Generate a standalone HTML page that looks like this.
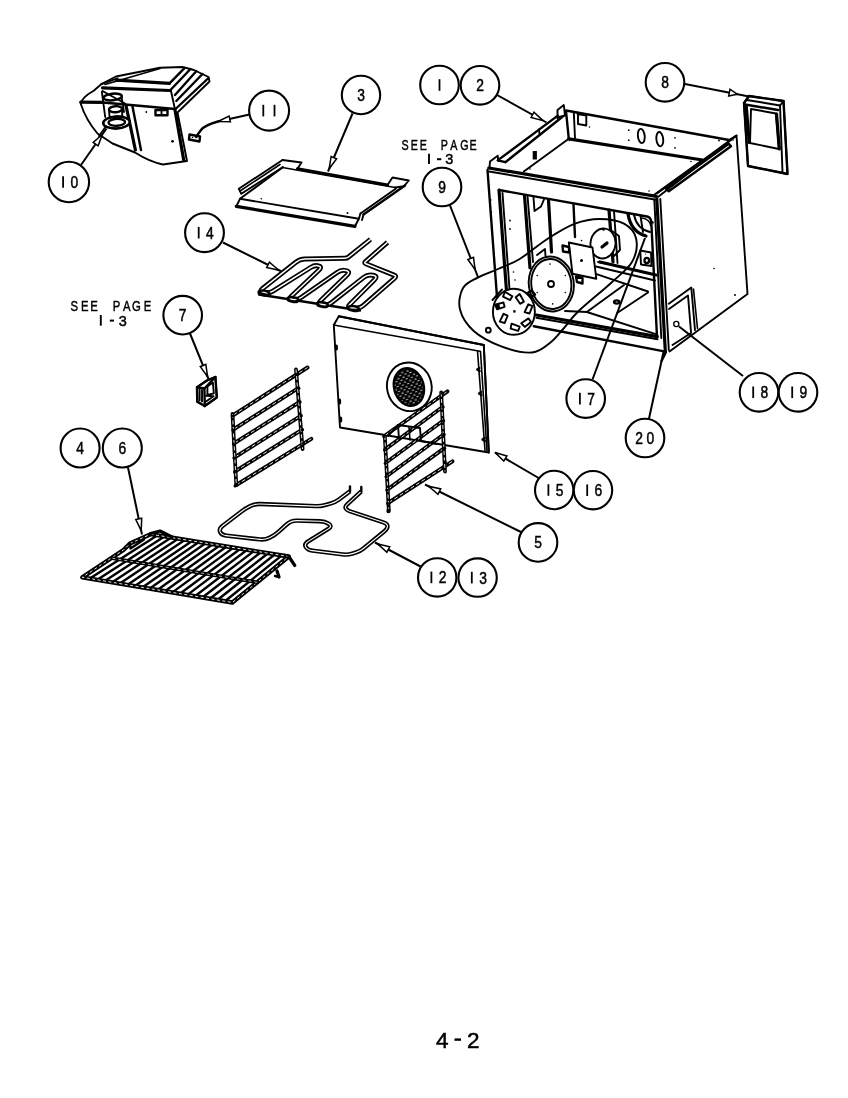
<!DOCTYPE html>
<html><head><meta charset="utf-8"><title>4-2</title>
<style>
html,body{margin:0;padding:0;background:#fff;}
body{width:848px;height:1098px;overflow:hidden;font-family:"Liberation Sans",sans-serif;}
svg{display:block;}
.l{fill:none;stroke:#000;stroke-width:1.9;stroke-linecap:round;stroke-linejoin:round;}
.n{fill:none;stroke:#000;stroke-width:1.6;stroke-linecap:round;stroke-linejoin:round;}
.t{fill:none;stroke:#000;stroke-width:3.2;stroke-linecap:round;stroke-linejoin:round;}
.m{fill:none;stroke:#000;stroke-width:2.4;stroke-linecap:round;stroke-linejoin:round;}
.ld{fill:none;stroke:#000;stroke-width:2.0;}
.ah{fill:#fff;stroke:#000;stroke-width:1.5;stroke-linejoin:miter;}
.w{fill:#fff;stroke:#000;stroke-width:1.9;stroke-linejoin:round;}
.c{fill:#fff;stroke:#000;stroke-width:2.1;}
.k{fill:#000;stroke:none;}
text{font-family:"Liberation Sans",sans-serif;fill:#000;}
.d{font-size:16.8px;text-anchor:middle;}
.s{font-size:14.5px;}
.b{font-size:22.5px;text-anchor:middle;stroke:#000;stroke-width:0.5px;}
</style></head><body>
<svg width="848" height="1098" viewBox="0 0 848 1098">
<rect width="848" height="1098" fill="#fff"/>
<!-- 10_housing.py -->
<path class="w" d="M101.5,84 L116,76.5 L160,67.8 L182.5,67 L194,70 L208.5,77 L209.5,81.5 L177.5,112.5 L187,161 L163,164.5 Q150,162 135,152.5 L112.5,143.5 L97.5,133.5 Q86,120 80.8,104 Q81,98 94,90.5 Z" />
<path class="t" d="M102.5,87.8 L170.0,90.5" />
<path class="m" d="M170.0,90.5 L190.0,69.5" />
<path class="t" d="M116.5,80.2 L169.5,83.4" />
<path class="m" d="M169.5,83.4 L184.0,68.6" />
<path class="l" d="M101.5,84.0 L117.5,78.3" />
<path class="n" d="M105.0,84.5 L160.0,68.5" />
<path class="m" d="M196.2,71.2 L175.0,95.0"/>
<path class="m" d="M202.5,74.0 L176.3,101.0"/>
<path class="m" d="M208.5,78.0 L175.0,109.5"/>
<path class="l" d="M171.0,91.0 L175.0,109.5"/>
<path class="m" d="M103.0,102.5 L175.0,109.0" />
<path class="t" d="M175.0,110.0 L183.8,160.5" />
<path class="l" d="M102.5,91.0 L125.0,103.5" />
<rect class="m" x="155.5" y="110" width="12" height="5.2"/>
<path class="l" d="M161.5,110.0 L161.5,115.0"/>
<circle cx="146.3" cy="112" r="0.9" fill="#000"/>
<circle cx="172.5" cy="141.3" r="1.4" fill="#000"/>
<path class="t" d="M80.7,102.2 L102.4,102.4" />
<path class="l" d="M101.9,92.0 L105.2,117.0" />
<ellipse class="m" cx="112.7" cy="97" rx="9.2" ry="3.3" transform="rotate(-6 112.7 97)"/>
<path class="l" d="M121.5,97.0 L124.0,112.0" />
<ellipse class="m" cx="115.6" cy="109.2" rx="6.6" ry="3" transform="rotate(-4 115.6 109.2)"/>
<path class="l" d="M109.0,109.5 L109.5,116.5" />
<path class="l" d="M122.0,109.0 L122.3,116.0" />
<path class="t" d="M126.0,105.5 L135.4,150.0" />
<path class="m" d="M132.5,106.4 L141.0,150.0" />
<ellipse class="w" cx="116.5" cy="122.5" rx="13.3" ry="6" transform="rotate(-3 116.5 122.5)"/>
<ellipse class="m" cx="116.5" cy="122.5" rx="13.3" ry="6" transform="rotate(-3 116.5 122.5)"/>
<ellipse class="m" cx="116.8" cy="122.3" rx="8.3" ry="3.5" transform="rotate(-3 116.8 122.3)"/>
<path class="l" d="M105.5,127.0 L99.0,136.0" />
<!-- 11_wire.py -->
<path class="m" d="M218,121.5 Q205,125 201,130 Q198,134 196,137" />
<path class="m" d="M189.5,134.5 L200.0,136.5 L199.5,141.5 L189.0,139.5 Z" />
<circle cx="192.5" cy="137.5" r="0.8" fill="#000"/>
<!-- 12_tray.py -->
<path class="l" d="M282.5,160.0 L301.5,162.5 L297.5,168.8" />
<path class="t" d="M297.5,168.8 L387.5,185.0" />
<path class="l" d="M387.5,185.0 L392.5,177.5 L408.8,180.5 L403.8,186.3 L395.0,187.5" />
<path class="n" d="M282.5,167.5 L395.0,187.5" />
<path class="l" d="M282.5,160.0 L238.8,188.8 L241.3,193.8 L283.0,167.0" />
<path class="n" d="M280.0,164.5 L240.0,191.0" />
<path class="l" d="M282.5,167.5 L240.0,198.8 L236.3,206.3" />
<path class="l" d="M240.0,198.8 L358.8,218.8" />
<path class="t" d="M236.3,206.3 L355.0,226.3" />
<path class="m" d="M405.0,185.5 L363.5,214.5" />
<path class="l" d="M396.0,188.5 L360.5,213.5" />
<path class="l" d="M360.5,213.5 L358.8,218.8 L355.0,226.3" />
<path class="l" d="M363.5,214.5 L362.0,220.0" />
<circle cx="261.3" cy="198.8" r="0.8" fill="#000"/>
<circle cx="347.5" cy="213" r="1" fill="#000"/>
<!-- 13_broil.py -->
<path class="m" d="M259.0,294.5 L360.0,310.5"/>
<path d="M370.5,239.4 L348.5,257.0 Q346.9,258.3 344.9,258.3 L304.7,259.1 Q299.7,259.2 295.8,262.3 L262.3,288.8 Q259.2,291.3 263.1,292.0 L265.6,292.5 Q269.5,293.2 272.9,291.1 L310.6,267.5 Q314.8,264.9 318.6,265.9 L318.6,265.9 Q322.4,266.8 318.8,270.2 L291.3,296.2 Q288.4,298.9 292.4,299.3 L293.8,299.4 Q297.8,299.8 301.1,297.5 L337.1,272.5 Q341.2,269.6 345.9,270.6 L345.9,270.6 Q350.7,271.5 347.1,275.0 L320.5,300.8 Q317.6,303.6 321.5,304.3 L324.1,304.8 Q328.0,305.5 331.1,303.0 L363.7,277.4 Q367.6,274.3 372.5,275.2 L373.1,275.3 Q378.0,276.2 374.5,279.7 L349.7,304.6 Q346.9,307.4 350.9,307.7 L356.1,308.0 Q360.1,308.3 363.1,305.7 L394.6,278.2 Q396.9,276.2 394.1,275.1 L365.8,263.7 Q363.9,263.0 365.4,261.7 L387.5,242.3" fill="none" stroke="#000" stroke-width="5.0" stroke-linecap="butt" stroke-linejoin="round"/>
<path d="M370.5,239.4 L348.5,257.0 Q346.9,258.3 344.9,258.3 L304.7,259.1 Q299.7,259.2 295.8,262.3 L262.3,288.8 Q259.2,291.3 263.1,292.0 L265.6,292.5 Q269.5,293.2 272.9,291.1 L310.6,267.5 Q314.8,264.9 318.6,265.9 L318.6,265.9 Q322.4,266.8 318.8,270.2 L291.3,296.2 Q288.4,298.9 292.4,299.3 L293.8,299.4 Q297.8,299.8 301.1,297.5 L337.1,272.5 Q341.2,269.6 345.9,270.6 L345.9,270.6 Q350.7,271.5 347.1,275.0 L320.5,300.8 Q317.6,303.6 321.5,304.3 L324.1,304.8 Q328.0,305.5 331.1,303.0 L363.7,277.4 Q367.6,274.3 372.5,275.2 L373.1,275.3 Q378.0,276.2 374.5,279.7 L349.7,304.6 Q346.9,307.4 350.9,307.7 L356.1,308.0 Q360.1,308.3 363.1,305.7 L394.6,278.2 Q396.9,276.2 394.1,275.1 L365.8,263.7 Q363.9,263.0 365.4,261.7 L387.5,242.3" fill="none" stroke="#fff" stroke-width="1.5" stroke-linecap="butt" stroke-linejoin="round"/>
<ellipse class="m" cx="264" cy="293" rx="5.5" ry="2.4" transform="rotate(8 264 293)"/>
<ellipse class="m" cx="293" cy="299.5" rx="5.5" ry="2.4" transform="rotate(8 293 299.5)"/>
<ellipse class="m" cx="322.5" cy="304.5" rx="5.5" ry="2.4" transform="rotate(8 322.5 304.5)"/>
<ellipse class="m" cx="353.5" cy="308.5" rx="5.5" ry="2.4" transform="rotate(8 353.5 308.5)"/>
<!-- 20_cabinet.py -->
<path class="l" d="M658.0,197.0 L736.5,135.5 L747.5,294.0 L669.5,351.5" />
<path class="l" d="M557.5,118.5 L557.5,110.0 L563.8,105.0 L565.0,115.5" />
<path class="m" d="M566.0,110.5 L729.0,140.0" />
<path class="l" d="M729.0,140.0 L736.5,135.5" />
<path class="t" d="M568.8,138.8 L702.5,160.0" />
<path class="m" d="M566.0,111.0 L568.8,138.8" />
<path class="l" d="M573.8,112.5 L575.0,138.0" />
<path class="l" d="M577.5,114.0 L586.3,115.6 L586.3,125.5 L578.0,124.0 L578.0,114.0" />
<circle cx="589.5" cy="127" r="0.8" fill="#000"/>
<circle cx="719" cy="140.5" r="0.9" fill="#000"/>
<circle cx="733" cy="140" r="0.8" fill="#000"/>
<ellipse class="l" cx="641.3" cy="136" rx="3.4" ry="7.2" transform="rotate(-6 641.3 136)"/>
<ellipse class="l" cx="659.8" cy="139.2" rx="3.4" ry="7.2" transform="rotate(-6 659.8 139.2)"/>
<circle cx="628.8" cy="130.2" r="0.9" fill="#000"/>
<circle cx="628.8" cy="140.2" r="0.9" fill="#000"/>
<circle cx="675" cy="137.8" r="0.9" fill="#000"/>
<circle cx="675" cy="147.8" r="0.9" fill="#000"/>
<path class="m" d="M557.8,115.6 L497.7,160.4 L505.4,162.2 L562.5,116.8" />
<path class="l" d="M539.0,129.5 L539.5,134.0" />
<path class="l" d="M557.5,117.5 L565.0,115.5" />
<path class="l" d="M489.5,167.5 L490.0,161.6 L497.7,155.7 L498.3,161.0" />
<path class="l" d="M568.8,138.8 L523.8,171.5" />
<path d="M534.8,151 V159.5" stroke="#000" stroke-width="4.2" fill="none"/>
<circle cx="569.5" cy="140.5" r="0.8" fill="#000"/>
<circle cx="530" cy="169" r="0.8" fill="#000"/>
<circle cx="691" cy="161.5" r="0.8" fill="#000"/>
<circle cx="649" cy="191" r="0.8" fill="#000"/>
<path class="l" d="M736.0,136.0 L657.0,193.5" />
<path class="m" d="M728.8,143.8 L666.0,188.8 L668.8,191.3 L731.0,146.3 Z" />
<path class="l" d="M702.5,160.0 L654.5,194.5" />
<path class="t" d="M488.8,168.0 L656.3,196.3" />
<path class="l" d="M489.0,171.5 L656.0,199.8" />
<path class="m" d="M487.5,170.0 L497.0,297.0" />
<path class="t" d="M499.0,190.0 L506.5,291.0" />
<path class="l" d="M502.5,193.0 L509.5,289.0" />
<path class="m" d="M499,190 L647,216.5 Q651,217.5 651.3,222" />
<path class="m" d="M651.3,222.0 L657.0,337.0" />
<path class="t" d="M656.8,199.0 L665.3,351.0" />
<path class="l" d="M660.3,199.0 L668.8,350.0" />
<path class="l" d="M654.3,199.5 L661.3,338.0" />
<path class="m" d="M666.0,352.0 L661.5,361.0" />
<path class="t" d="M536.3,315.0 L657.3,336.6" />
<path class="l" d="M536.5,317.8 L657.6,339.2" />
<path class="m" d="M533.8,326.3 L665.5,351.6" />
<circle cx="491" cy="200" r="0.7" fill="#000"/>
<circle cx="491.5" cy="212" r="0.7" fill="#000"/>
<circle cx="494" cy="262" r="0.7" fill="#000"/>
<!-- 21_cavity.py -->
<path class="t" d="M524.5,195.5 L530.0,268.0" />
<path class="l" d="M527.5,196.0 L533.0,262.0" />
<path class="t" d="M548.5,200.0 L551.5,252.0" />
<path class="m" d="M573.5,204.5 L575.0,237.0" />
<path class="t" d="M609.0,210.0 L613.0,262.0" />
<path class="l" d="M614.0,211.0 L617.5,263.0" />
<path class="l" d="M533.5,197.5 L534.5,211.0 L541.0,206.5 L544.0,199.5" />
<path class="l" d="M537.0,255.0 L545.0,249.0 L545.5,256.0" />
<circle cx="510" cy="220.5" r="0.9" fill="#000"/>
<circle cx="510" cy="229" r="0.9" fill="#000"/>
<circle cx="513.5" cy="272" r="0.8" fill="#000"/>
<circle cx="515" cy="280" r="0.8" fill="#000"/>
<path class="t" d="M628,214 Q631,232 646,236" />
<path class="l" d="M634,215 Q637,229 650,232" />
<path class="l" d="M640.5,216.0 L643.0,232.0" />
<path class="n" d="M642,218 Q649.5,219 651,226" />
<circle cx="652.5" cy="222.5" r="1.3" fill="#000"/>
<path class="l" d="M640.3,250.5 L651.0,252.5 L651.5,266.0 L641.0,264.5 Z" />
<ellipse class="m" cx="646.8" cy="260.5" rx="2.3" ry="2.6" transform="rotate(0 646.8 260.5)"/>
<circle cx="645.5" cy="254" r="0.6" fill="#000"/>
<path class="t" d="M600.0,262.0 L656.0,275.0" />
<path class="l" d="M596.0,266.5 L655.0,280.5" />
<path class="l" d="M595.0,273.7 L648.0,291.5" />
<path class="l" d="M586.8,312.0 L624.0,285.0" />
<path class="l" d="M617.5,312.8 L648.0,292.5" />
<path class="l" d="M586.8,312.0 L655.8,334.2" />
<path class="l" d="M565.0,311.0 L587.0,312.0" />
<ellipse class="m" cx="616.7" cy="302" rx="2.6" ry="1.6" transform="rotate(0 616.7 302)"/>
<ellipse class="w" cx="603" cy="243.5" rx="12.5" ry="15" transform="rotate(8 603 243.5)"/>
<path class="l" d="M598.0,262.0 L606.0,263.5" />
<path class="l" d="M612,231 L619,236 L620,250 L614,256" />
<path class="t" d="M602.0,247.0 L607.0,243.0" />
<circle cx="603.5" cy="229.5" r="1.3" fill="#000"/>
<path class="w" d="M568.8,242.5 L592.5,247.5 L596.3,278.8 L572.5,273.8 Z" />
<circle cx="581.5" cy="260.5" r="1.5" fill="#000"/>
<path class="m" d="M562.5,245.5 L568.8,247.0 L569.5,252.5 L563.0,251.5 Z" />
<path class="m" d="M576.0,276.5 L582.5,278.0 L582.5,283.5 L577.0,282.0 Z" />
<circle cx="581.5" cy="240.5" r="0.8" fill="#000"/>
<ellipse class="w" cx="551.3" cy="284" rx="22.5" ry="27.5" transform="rotate(-8 551.3 284)"/>
<ellipse class="l" cx="551.3" cy="284" rx="20" ry="25" transform="rotate(-8 551.3 284)"/>
<circle cx="551" cy="284" r="3" fill="#fff" stroke="#000" stroke-width="1.8"/>
<circle cx="565.3477706990681" cy="292.452365234814" r="0.8" fill="#000"/>
<circle cx="552.6509140125886" cy="303.9238939618349" r="0.8" fill="#000"/>
<circle cx="537.2522293009318" cy="292.452365234814" r="0.8" fill="#000"/>
<circle cx="537.2522293009318" cy="275.547634765186" r="0.8" fill="#000"/>
<circle cx="549.9490859874113" cy="264.0761060381651" r="0.8" fill="#000"/>
<circle cx="565.3477706990681" cy="275.547634765186" r="0.8" fill="#000"/>
<!-- 22_smallfan.py -->
<path class="l" d="M478.3,277.4 C484.1,274.2 491.1,272.1 498.0,269.0 C504.9,265.9 511.5,264.0 519.7,259.0 C527.9,254.0 538.1,244.9 547.3,239.0 C556.5,233.1 566.3,227.0 575.0,223.7 C583.7,220.4 591.2,219.0 599.4,219.0 C607.6,219.0 617.9,220.4 624.0,223.7 C630.1,227.0 634.9,232.6 636.2,239.0 C637.5,245.4 636.2,254.7 632.0,262.0 C627.8,269.3 619.9,274.8 611.0,283.0 C602.1,291.2 586.2,303.8 578.4,311.3 C570.6,318.8 568.6,322.9 564.0,328.0 C559.4,333.1 556.3,337.9 551.0,342.0 C545.7,346.1 540.3,351.8 532.0,352.5 C523.7,353.2 511.0,350.0 501.3,346.4 C491.6,342.8 480.6,337.1 473.7,331.0 C466.8,324.9 461.8,316.8 460.0,309.6 C458.2,302.4 459.9,293.4 463.0,288.0 C466.1,282.6 472.5,280.6 478.3,277.4 Z" />
<ellipse class="w" cx="513.9" cy="311.8" rx="21" ry="23" transform="rotate(0 513.9 311.8)"/>
<path d="M-4.5,-2.2 L4.2,-2.8 L4.6,1.6 L-3.2,2.8 Z" transform="translate(507.3,296.1) rotate(35)" fill="#fff" stroke="#000" stroke-width="1.9" stroke-linejoin="round"/>
<path d="M-4.5,-2.2 L4.2,-2.8 L4.6,1.6 L-3.2,2.8 Z" transform="translate(519.6,299) rotate(65)" fill="#fff" stroke="#000" stroke-width="1.9" stroke-linejoin="round"/>
<path d="M-4.5,-2.2 L4.2,-2.8 L4.6,1.6 L-3.2,2.8 Z" transform="translate(528.7,309.3) rotate(-60)" fill="#fff" stroke="#000" stroke-width="1.9" stroke-linejoin="round"/>
<path d="M-4.5,-2.2 L4.2,-2.8 L4.6,1.6 L-3.2,2.8 Z" transform="translate(526.2,322.9) rotate(-30)" fill="#fff" stroke="#000" stroke-width="1.9" stroke-linejoin="round"/>
<path d="M-4.5,-2.2 L4.2,-2.8 L4.6,1.6 L-3.2,2.8 Z" transform="translate(514.7,327.5) rotate(25)" fill="#fff" stroke="#000" stroke-width="1.9" stroke-linejoin="round"/>
<path d="M-4.5,-2.2 L4.2,-2.8 L4.6,1.6 L-3.2,2.8 Z" transform="translate(503.9,318.8) rotate(-60)" fill="#fff" stroke="#000" stroke-width="1.9" stroke-linejoin="round"/>
<path d="M-4.5,-2.2 L4.2,-2.8 L4.6,1.6 L-3.2,2.8 Z" transform="translate(499.8,306) rotate(-10)" fill="#fff" stroke="#000" stroke-width="1.9" stroke-linejoin="round"/>
<path d="M-4.5,-2.2 L0,-2.5 L0,2.2 L-3.2,2.8 Z" transform="translate(499.8,306) rotate(-10)" fill="#000"/>
<rect x="513.2" y="310.2" width="2.4" height="2.4" fill="#000"/>
<circle cx="488.3" cy="330.2" r="2.4" fill="#fff" stroke="#000" stroke-width="1.9"/>
<path class="m" d="M527.5,293.0 L531.5,290.5 L535.0,294.5 L531.0,297.5 Z" />
<path class="l" d="M492.5,300.0 L502.0,289.5" />
<!-- 23_corner.py -->
<path class="l" d="M668.8,303.8 L691.3,287.5 L695.0,330.0" />
<path class="l" d="M669.0,309.0 L688.0,295.5 L691.0,332.0" />
<path class="n" d="M693.5,289.0 L697.5,328.5" />
<path class="l" d="M672.5,345.0 L691.0,333.0" />
<circle cx="676.3" cy="324" r="2.6" fill="#fff" stroke="#000" stroke-width="1.3"/>
<circle cx="714" cy="268.5" r="0.8" fill="#000"/>
<circle cx="735" cy="295" r="1" fill="#000"/>
<path class="w" d="M744.0,103.0 L749.0,96.0 L783.5,101.0 L787.5,174.0 L748.0,166.0 Z" />
<path class="m" d="M744.0,103.0 L749.0,96.0 L783.5,101.0 L787.5,174.0 L748.0,166.0 Z" />
<path class="l" d="M747.0,100.0 L780.0,105.5" />
<path class="m" d="M745.0,104.5 L778.0,110.0" />
<path class="l" d="M780.0,105.5 L782.5,172.0" />
<path class="t" d="M746.2,106.0 L749.2,142.5" />
<path class="l" d="M751.0,109.0 L776.0,113.5 L779.0,149.0 L750.0,143.0 Z" />
<path class="t" d="M776.5,114.0 L779.3,149.0" />
<path class="l" d="M783.5,101.0 L780.0,105.5" />
<!-- 30_backpanel.py -->
<path class="w" d="M338.8,316.3 L483.8,345.0 L488.8,452.5 L382.0,434.5 L340.0,427.5 L333.8,325.0 Z" />
<path class="n" d="M333.8,325.0 L480.0,351.3" />
<path class="l" d="M338.8,316.3 L483.8,345.0" />
<path class="n" d="M477.5,351.0 L485.0,450.5" />
<path class="n" d="M480.5,351.5 L487.0,451.0" />
<path class="l" d="M483.8,345.0 L488.8,452.5" />
<path class="t" d="M336.3,346 v3"/>
<path class="t" d="M339.5,400 v3"/>
<path class="t" d="M340.6,418 v3"/>
<path class="m" d="M479.3,368 l-2,1.5 l2.3,1.5"/>
<path class="m" d="M481.1,392 l-2,1.5 l2.3,1.5"/>
<path class="m" d="M484.5,438 l-2,1.5 l2.3,1.5"/>
<defs><pattern id="mesh" width="5.4" height="5" patternUnits="userSpaceOnUse"><rect width="5.4" height="5" fill="#000"/><rect x="0.4" y="0.7" width="2.3" height="0.85" fill="#fff"/><rect x="3.1" y="3.2" width="2" height="0.85" fill="#fff"/></pattern></defs>
<ellipse class="w" cx="409.3" cy="386.8" rx="22.3" ry="24.4" transform="rotate(-13 409.3 386.8)"/>
<ellipse cx="408.9" cy="387" rx="16" ry="20.3" transform="rotate(-16 408.9 387)" fill="#000"/>
<ellipse cx="408.9" cy="387" rx="13.8" ry="18" transform="rotate(-16 408.9 387)" fill="url(#mesh)"/>
<!-- 31_racks.py -->
<path d="M233.5,415.0 L307.5,367.5" stroke="#000" stroke-width="3.9" fill="none" stroke-linecap="round"/>
<path d="M233.5,415.0 L307.5,367.5" stroke="#fff" stroke-width="0.9" fill="none" stroke-linecap="butt" stroke-dasharray="4 2.5"/>
<path d="M234.1,429.0 L297.5,388.6" stroke="#000" stroke-width="3.9" fill="none" stroke-linecap="round"/>
<path d="M234.1,429.0 L297.5,388.6" stroke="#fff" stroke-width="0.9" fill="none" stroke-linecap="butt" stroke-dasharray="4 2.5"/>
<path d="M234.6,443.0 L298.8,402.5" stroke="#000" stroke-width="3.9" fill="none" stroke-linecap="round"/>
<path d="M234.6,443.0 L298.8,402.5" stroke="#fff" stroke-width="0.9" fill="none" stroke-linecap="butt" stroke-dasharray="4 2.5"/>
<path d="M235.2,457.0 L300.0,416.3" stroke="#000" stroke-width="3.9" fill="none" stroke-linecap="round"/>
<path d="M235.2,457.0 L300.0,416.3" stroke="#fff" stroke-width="0.9" fill="none" stroke-linecap="butt" stroke-dasharray="4 2.5"/>
<path d="M235.7,471.0 L301.3,430.2" stroke="#000" stroke-width="3.9" fill="none" stroke-linecap="round"/>
<path d="M235.7,471.0 L301.3,430.2" stroke="#fff" stroke-width="0.9" fill="none" stroke-linecap="butt" stroke-dasharray="4 2.5"/>
<path d="M236.3,485.0 L311.3,438.8" stroke="#000" stroke-width="3.9" fill="none" stroke-linecap="round"/>
<path d="M236.3,485.0 L311.3,438.8" stroke="#fff" stroke-width="0.9" fill="none" stroke-linecap="butt" stroke-dasharray="4 2.5"/>
<path d="M232.5,414.0 L236.3,485.0" stroke="#000" stroke-width="3.8" fill="none" stroke-linecap="round"/>
<path d="M232.5,414.0 L236.3,485.0" stroke="#fff" stroke-width="0.9" fill="none" stroke-dasharray="4 2.5"/>
<path d="M296.0,369.5 L302.6,449.0" stroke="#000" stroke-width="3.8" fill="none" stroke-linecap="round"/>
<path d="M296.0,369.5 L302.6,449.0" stroke="#fff" stroke-width="0.9" fill="none" stroke-dasharray="4 2.5"/>
<circle cx="297.5" cy="374.3" r="1.7" fill="#000"/>
<circle cx="232.3" cy="416.0" r="1.6" fill="#000"/>
<circle cx="298.74" cy="388.14" r="1.7" fill="#000"/>
<circle cx="232.86" cy="430.0" r="1.6" fill="#000"/>
<circle cx="299.98" cy="401.98" r="1.7" fill="#000"/>
<circle cx="233.42000000000002" cy="444.0" r="1.6" fill="#000"/>
<circle cx="301.21999999999997" cy="415.82" r="1.7" fill="#000"/>
<circle cx="233.98000000000002" cy="458.0" r="1.6" fill="#000"/>
<circle cx="302.46" cy="429.66" r="1.7" fill="#000"/>
<circle cx="234.54000000000002" cy="472.0" r="1.6" fill="#000"/>
<circle cx="303.7" cy="443.5" r="1.7" fill="#000"/>
<circle cx="235.10000000000002" cy="486.0" r="1.6" fill="#000"/>
<path d="M385.0,435.5 L447.5,391.3" stroke="#000" stroke-width="3.9" fill="none" stroke-linecap="round"/>
<path d="M385.0,435.5 L447.5,391.3" stroke="#fff" stroke-width="0.9" fill="none" stroke-linecap="butt" stroke-dasharray="4 2.5"/>
<path d="M385.8,448.9 L441.8,407.5" stroke="#000" stroke-width="3.9" fill="none" stroke-linecap="round"/>
<path d="M385.8,448.9 L441.8,407.5" stroke="#fff" stroke-width="0.9" fill="none" stroke-linecap="butt" stroke-dasharray="4 2.5"/>
<path d="M386.5,462.3 L442.3,421.3" stroke="#000" stroke-width="3.9" fill="none" stroke-linecap="round"/>
<path d="M386.5,462.3 L442.3,421.3" stroke="#fff" stroke-width="0.9" fill="none" stroke-linecap="butt" stroke-dasharray="4 2.5"/>
<path d="M387.3,475.7 L442.8,435.0" stroke="#000" stroke-width="3.9" fill="none" stroke-linecap="round"/>
<path d="M387.3,475.7 L442.8,435.0" stroke="#fff" stroke-width="0.9" fill="none" stroke-linecap="butt" stroke-dasharray="4 2.5"/>
<path d="M388.0,489.1 L443.3,448.8" stroke="#000" stroke-width="3.9" fill="none" stroke-linecap="round"/>
<path d="M388.0,489.1 L443.3,448.8" stroke="#fff" stroke-width="0.9" fill="none" stroke-linecap="butt" stroke-dasharray="4 2.5"/>
<path d="M388.8,502.5 L452.5,461.3" stroke="#000" stroke-width="3.9" fill="none" stroke-linecap="round"/>
<path d="M388.8,502.5 L452.5,461.3" stroke="#fff" stroke-width="0.9" fill="none" stroke-linecap="butt" stroke-dasharray="4 2.5"/>
<path d="M384.8,436.0 L388.8,510.0" stroke="#000" stroke-width="3.8" fill="none" stroke-linecap="round"/>
<path d="M384.8,436.0 L388.8,510.0" stroke="#fff" stroke-width="0.9" fill="none" stroke-dasharray="4 2.5"/>
<path d="M441.2,392.5 L445.0,471.5" stroke="#000" stroke-width="3.8" fill="none" stroke-linecap="round"/>
<path d="M441.2,392.5 L445.0,471.5" stroke="#fff" stroke-width="0.9" fill="none" stroke-dasharray="4 2.5"/>
<circle cx="442.5" cy="393.3" r="1.7" fill="#000"/>
<circle cx="383.8" cy="436.5" r="1.6" fill="#000"/>
<circle cx="443.0" cy="407.04" r="1.7" fill="#000"/>
<circle cx="384.56" cy="449.9" r="1.6" fill="#000"/>
<circle cx="443.5" cy="420.78000000000003" r="1.7" fill="#000"/>
<circle cx="385.32" cy="463.3" r="1.6" fill="#000"/>
<circle cx="444.0" cy="434.52" r="1.7" fill="#000"/>
<circle cx="386.08000000000004" cy="476.7" r="1.6" fill="#000"/>
<circle cx="444.5" cy="448.26" r="1.7" fill="#000"/>
<circle cx="386.84000000000003" cy="490.1" r="1.6" fill="#000"/>
<circle cx="445.0" cy="462.0" r="1.7" fill="#000"/>
<circle cx="387.6" cy="503.5" r="1.6" fill="#000"/>
<path class="l" d="M388.0,436.0 L398.0,425.0 L420.0,428.0 L421.0,441.0" />
<path class="l" d="M398.0,425.0 L399.0,439.0" />
<path class="n" d="M409.0,427.0 L410.0,440.0" />
<path class="l" d="M421.0,441.0 L437.0,444.0" />
<circle cx="388.5" cy="511" r="2.2" fill="#000"/>
<!-- 32_bake.py -->
<path d="M350.0,491.3 L339.0,499.5 Q335.0,502.5 330.2,503.7 L323.9,505.3 Q320.0,506.3 316.0,506.1 L260.0,504.0 Q255.0,503.8 250.5,506.0 L248.6,507.0 Q245.0,508.8 241.8,511.2 L222.8,525.8 Q218.8,528.8 220.1,531.9 L220.1,531.9 Q221.3,535.0 226.3,535.6 L260.0,539.4 Q265.0,540.0 269.5,537.8 L270.5,537.2 Q275.0,535.0 278.7,531.6 L286.6,524.5 Q291.0,520.5 297.0,520.6 L320.0,521.2 Q325.0,521.3 328.8,523.8 L328.8,523.8 Q332.5,526.3 328.3,528.9 L308.2,541.4 Q304.0,544.0 305.8,547.0 L305.8,547.0 Q307.5,550.0 312.5,550.6 L342.5,554.4 Q347.5,555.0 352.3,553.6 L356.2,552.4 Q360.0,551.3 363.1,548.8 L384.4,531.3 Q387.5,528.8 387.5,526.3 L387.5,526.3 Q387.5,523.8 383.7,522.5 L349.1,511.0 Q346.3,510.0 345.6,508.1 L345.6,508.1 Q345.0,506.3 347.2,504.3 L361.3,491.3" fill="none" stroke="#000" stroke-width="4.4" stroke-linecap="butt" stroke-linejoin="round"/>
<path d="M350.0,491.3 L339.0,499.5 Q335.0,502.5 330.2,503.7 L323.9,505.3 Q320.0,506.3 316.0,506.1 L260.0,504.0 Q255.0,503.8 250.5,506.0 L248.6,507.0 Q245.0,508.8 241.8,511.2 L222.8,525.8 Q218.8,528.8 220.1,531.9 L220.1,531.9 Q221.3,535.0 226.3,535.6 L260.0,539.4 Q265.0,540.0 269.5,537.8 L270.5,537.2 Q275.0,535.0 278.7,531.6 L286.6,524.5 Q291.0,520.5 297.0,520.6 L320.0,521.2 Q325.0,521.3 328.8,523.8 L328.8,523.8 Q332.5,526.3 328.3,528.9 L308.2,541.4 Q304.0,544.0 305.8,547.0 L305.8,547.0 Q307.5,550.0 312.5,550.6 L342.5,554.4 Q347.5,555.0 352.3,553.6 L356.2,552.4 Q360.0,551.3 363.1,548.8 L384.4,531.3 Q387.5,528.8 387.5,526.3 L387.5,526.3 Q387.5,523.8 383.7,522.5 L349.1,511.0 Q346.3,510.0 345.6,508.1 L345.6,508.1 Q345.0,506.3 347.2,504.3 L361.3,491.3" fill="none" stroke="#fff" stroke-width="1.1" stroke-linecap="butt" stroke-linejoin="round"/>
<path class="m" d="M350.0,491.3 L350.0,486.5"/>
<path class="m" d="M361.3,491.3 L361.3,487.0"/>
<!-- 33_ovenrack.py -->
<path d="M157.5,535.3 L89.8,578.6" stroke="#000" stroke-width="2.4" fill="none"/>
<path d="M164.4,536.4 L97.3,579.8" stroke="#000" stroke-width="2.4" fill="none"/>
<path d="M171.3,537.5 L104.8,581.1" stroke="#000" stroke-width="2.4" fill="none"/>
<path d="M178.2,538.7 L112.3,582.3" stroke="#000" stroke-width="2.4" fill="none"/>
<path d="M185.2,539.8 L119.8,583.6" stroke="#000" stroke-width="2.4" fill="none"/>
<path d="M192.1,540.9 L127.3,584.9" stroke="#000" stroke-width="2.4" fill="none"/>
<path d="M199.0,542.0 L134.8,586.1" stroke="#000" stroke-width="2.4" fill="none"/>
<path d="M205.9,543.1 L142.3,587.4" stroke="#000" stroke-width="2.4" fill="none"/>
<path d="M212.8,544.2 L149.8,588.6" stroke="#000" stroke-width="2.4" fill="none"/>
<path d="M219.7,545.4 L157.4,589.9" stroke="#000" stroke-width="2.4" fill="none"/>
<path d="M226.6,546.5 L164.9,591.2" stroke="#000" stroke-width="2.4" fill="none"/>
<path d="M233.5,547.6 L172.4,592.4" stroke="#000" stroke-width="2.4" fill="none"/>
<path d="M240.4,548.7 L179.9,593.7" stroke="#000" stroke-width="2.4" fill="none"/>
<path d="M247.3,549.8 L187.4,594.9" stroke="#000" stroke-width="2.4" fill="none"/>
<path d="M254.2,550.9 L194.9,596.2" stroke="#000" stroke-width="2.4" fill="none"/>
<path d="M261.2,552.0 L202.4,597.5" stroke="#000" stroke-width="2.4" fill="none"/>
<path d="M268.1,553.2 L209.9,598.7" stroke="#000" stroke-width="2.4" fill="none"/>
<path d="M275.0,554.3 L217.4,600.0" stroke="#000" stroke-width="2.4" fill="none"/>
<path d="M281.9,555.4 L224.9,601.2" stroke="#000" stroke-width="2.4" fill="none"/>
<path d="M150.6,534.2 L288.8,556.5 L232.4,602.5 L82.3,577.3 L123.5,550 L130,543.5 L150.6,534.2" stroke="#000" stroke-width="4.4" fill="none" stroke-linejoin="round" stroke-linecap="round"/>
<path d="M150.6,534.2 L288.8,556.5 L232.4,602.5 L82.3,577.3 L123.5,550 L130,543.5 L150.6,534.2" stroke="#fff" stroke-width="0.9" fill="none" stroke-linejoin="round" stroke-dasharray="3 2.5"/>
<path d="M112.4,558.3 L257.2,582.3" stroke="#000" stroke-width="3.6" fill="none" stroke-linejoin="round" stroke-linecap="round"/>
<path d="M112.4,558.3 L257.2,582.3" stroke="#fff" stroke-width="0.7" fill="none" stroke-linejoin="round" stroke-dasharray="3 3"/>
<path class="t" d="M288.8,556.5 L294.8,565.5" />
<path class="t" d="M277.0,571.0 L279.0,577.0" />
<path class="m" d="M279.0,577.0 L275.0,576.0" />
<path class="t" d="M150.6,533.5 L160.0,531.0 L172.0,537.0" />
<path class="m" d="M130.0,543.5 L130.5,548.5 L144.0,539.5" />
<!-- 34_lamp7.py -->
<path class="w" d="M197.0,387.2 L206.9,380.5 L215.4,377.0 L216.8,397.5 L204.8,406.0 L197.3,401.8 Z" />
<path class="m" d="M197.0,387.2 L206.9,380.5 L215.4,377.0 L216.8,397.5 L204.8,406.0 L197.3,401.8 Z" />
<path class="m" d="M197.0,387.2 L204.4,388.5 L204.8,406.0" />
<path class="m" d="M204.4,388.5 L215.4,377.0" />
<path class="l" d="M199.6,389.7 L199.6,400.5" />
<path class="l" d="M202.0,390.0 L202.0,401.5" />
<path class="l" d="M207.4,386.5 L212.9,382.6 L213.8,393.3 L207.4,395.0 Z" />
<path class="l" d="M206.2,395.8 L213.6,396.2 L206.0,401.5" />
<!-- 80_leaders.py -->
<path class="ld" d="M81.0,165.0 L106.5,128.5"/>
<path class="ah" d="M102.5,134.2 L98.1,145.8 L93.2,142.4 Z" />
<path class="ld" d="M249.5,114.5 L218.0,121.5"/>
<path class="ah" d="M218.0,121.5 L229.1,116.0 L230.4,121.8 Z" />
<path class="ld" d="M352.5,113.5 L328.0,171.5"/>
<path class="ah" d="M329.2,168.7 L331.1,156.5 L336.6,158.8 Z" />
<path class="ld" d="M497.0,95.0 L546.5,122.5"/>
<path class="ah" d="M543.0,120.6 L531.1,117.4 L534.0,112.1 Z" />
<path class="ld" d="M685.0,84.0 L749.0,96.5"/>
<path class="ah" d="M737.2,94.2 L728.7,96.1 L730.0,89.2 Z" />
<path class="ld" d="M450.0,205.5 L478.0,277.0"/>
<path class="ah" d="M475.1,269.6 L467.9,259.5 L473.5,257.3 Z" />
<path class="ld" d="M223.0,242.5 L281.5,271.5"/>
<path class="ah" d="M278.8,270.2 L266.7,267.5 L269.4,262.1 Z" />
<path class="ld" d="M190.0,333.5 L208.5,379.0"/>
<path class="ah" d="M207.6,376.7 L200.3,366.7 L205.8,364.4 Z" />
<path class="ld" d="M128.0,467.5 L142.0,534.5"/>
<path class="ah" d="M141.2,530.6 L135.8,519.5 L141.7,518.2 Z" />
<path class="ld" d="M592.5,379.5 L645.0,238.0"/>
<path class="ld" d="M649.0,418.5 L663.5,352.0"/>
<path class="ld" d="M743.0,376.0 L679.0,326.5"/>
<path class="ld" d="M539.5,478.5 L495.0,452.5"/>
<path class="ah" d="M495.0,452.5 L506.9,456.0 L503.8,461.1 Z" />
<path class="ld" d="M522.0,532.5 L425.0,484.5"/>
<path class="ah" d="M428.6,486.3 L440.7,488.9 L438.0,494.3 Z" />
<path class="ld" d="M420.5,566.5 L375.0,542.5"/>
<path class="ah" d="M377.7,543.9 L389.7,546.8 L386.9,552.2 Z" />
<!-- 90_callouts.py -->
<defs><filter id="nf" x="0" y="0" width="848" height="1098" filterUnits="userSpaceOnUse"><feOffset dx="0" dy="0"/></filter></defs><g filter="url(#nf)">
<circle class="c" cx="439.5" cy="85" r="19.3"/>
<path d="M439.5,79.2 V90.8" stroke="#000" stroke-width="1.8" fill="none"/>
<circle class="c" cx="480" cy="85.3" r="19.3"/>
<text class="d" x="480.0" y="91.3" textLength="7.7" lengthAdjust="spacingAndGlyphs" stroke="#000" stroke-width="0.5">2</text>
<circle class="c" cx="361" cy="95" r="19.2"/>
<text class="d" x="361.0" y="101.0" textLength="7.7" lengthAdjust="spacingAndGlyphs" stroke="#000" stroke-width="0.5">3</text>
<circle class="c" cx="665" cy="82.3" r="19.3"/>
<text class="d" x="665.0" y="88.3" textLength="7.7" lengthAdjust="spacingAndGlyphs" stroke="#000" stroke-width="0.5">8</text>
<circle class="c" cx="442" cy="187" r="19.3"/>
<text class="d" x="442.0" y="193.0" textLength="7.7" lengthAdjust="spacingAndGlyphs" stroke="#000" stroke-width="0.5">9</text>
<circle class="c" cx="68.9" cy="182" r="20.2"/>
<path d="M63.1,176.2 V187.8" stroke="#000" stroke-width="1.8" fill="none"/>
<text class="d" x="74.3" y="188.0" textLength="7.7" lengthAdjust="spacingAndGlyphs" stroke="#000" stroke-width="0.5">0</text>
<circle class="c" cx="269.1" cy="110.6" r="20"/>
<path d="M263.3,104.8 V116.4" stroke="#000" stroke-width="1.8" fill="none"/>
<path d="M274.5,104.8 V116.4" stroke="#000" stroke-width="1.8" fill="none"/>
<circle class="c" cx="204.5" cy="232.7" r="19.4"/>
<path d="M198.7,226.9 V238.5" stroke="#000" stroke-width="1.8" fill="none"/>
<text class="d" x="209.9" y="238.7" textLength="7.7" lengthAdjust="spacingAndGlyphs" stroke="#000" stroke-width="0.5">4</text>
<circle class="c" cx="182.7" cy="315.2" r="19.3"/>
<text class="d" x="182.7" y="321.2" textLength="7.7" lengthAdjust="spacingAndGlyphs" stroke="#000" stroke-width="0.5">7</text>
<circle class="c" cx="80.1" cy="448" r="19.5"/>
<text class="d" x="80.1" y="454.0" textLength="7.7" lengthAdjust="spacingAndGlyphs" stroke="#000" stroke-width="0.5">4</text>
<circle class="c" cx="122.3" cy="448" r="19.5"/>
<text class="d" x="122.3" y="454.0" textLength="7.7" lengthAdjust="spacingAndGlyphs" stroke="#000" stroke-width="0.5">6</text>
<circle class="c" cx="585.7" cy="398.6" r="19.3"/>
<path d="M579.9,392.8 V404.4" stroke="#000" stroke-width="1.8" fill="none"/>
<text class="d" x="591.1" y="404.6" textLength="7.7" lengthAdjust="spacingAndGlyphs" stroke="#000" stroke-width="0.5">7</text>
<circle class="c" cx="759" cy="392.3" r="19.3"/>
<path d="M753.2,386.5 V398.1" stroke="#000" stroke-width="1.8" fill="none"/>
<text class="d" x="764.4" y="398.3" textLength="7.7" lengthAdjust="spacingAndGlyphs" stroke="#000" stroke-width="0.5">8</text>
<circle class="c" cx="798" cy="392.3" r="19.3"/>
<path d="M792.2,386.5 V398.1" stroke="#000" stroke-width="1.8" fill="none"/>
<text class="d" x="803.4" y="398.3" textLength="7.7" lengthAdjust="spacingAndGlyphs" stroke="#000" stroke-width="0.5">9</text>
<circle class="c" cx="645" cy="438" r="19.3"/>
<text class="d" x="639.2" y="444.0" textLength="7.7" lengthAdjust="spacingAndGlyphs" stroke="#000" stroke-width="0.5">2</text>
<text class="d" x="650.4" y="444.0" textLength="7.7" lengthAdjust="spacingAndGlyphs" stroke="#000" stroke-width="0.5">0</text>
<circle class="c" cx="554.2" cy="490" r="19.2"/>
<path d="M548.4,484.2 V495.8" stroke="#000" stroke-width="1.8" fill="none"/>
<text class="d" x="559.6" y="496.0" textLength="7.7" lengthAdjust="spacingAndGlyphs" stroke="#000" stroke-width="0.5">5</text>
<circle class="c" cx="593" cy="490.2" r="19.2"/>
<path d="M587.2,484.4 V496.0" stroke="#000" stroke-width="1.8" fill="none"/>
<text class="d" x="598.4" y="496.2" textLength="7.7" lengthAdjust="spacingAndGlyphs" stroke="#000" stroke-width="0.5">6</text>
<circle class="c" cx="538" cy="542.4" r="19.3"/>
<text class="d" x="538.0" y="548.4" textLength="7.7" lengthAdjust="spacingAndGlyphs" stroke="#000" stroke-width="0.5">5</text>
<circle class="c" cx="437.2" cy="577.4" r="19.2"/>
<path d="M431.4,571.6 V583.2" stroke="#000" stroke-width="1.8" fill="none"/>
<text class="d" x="442.6" y="583.4" textLength="7.7" lengthAdjust="spacingAndGlyphs" stroke="#000" stroke-width="0.5">2</text>
<circle class="c" cx="477.6" cy="577.6" r="19.2"/>
<path d="M471.8,571.8 V583.4" stroke="#000" stroke-width="1.8" fill="none"/>
<text class="d" x="483.0" y="583.6" textLength="7.7" lengthAdjust="spacingAndGlyphs" stroke="#000" stroke-width="0.5">3</text>
<text class="s" transform="scale(0.78,1)" x="90.4 103.7 115.8 144.5 157.6 169.1 184.4" y="311.3" stroke="#000" stroke-width="0.45">SEEPAGE</text>
<path d="M100.8,315 V325.7" stroke="#000" stroke-width="1.9" fill="none"/>
<path d="M109.8,320.6 H114" stroke="#000" stroke-width="2" fill="none"/>
<text class="s" x="118.8" y="325.6" stroke="#000" stroke-width="0.5">3</text>
<text class="s" transform="scale(0.74,1)" x="542.6 555.0 567.2 595.5 608.5 621.8 634.5" y="149.6" stroke="#000" stroke-width="0.45">SEEPAGE</text>
<path d="M429,153.7 V164" stroke="#000" stroke-width="1.9" fill="none"/>
<path d="M437,159.2 H441.3" stroke="#000" stroke-width="2" fill="none"/>
<text class="s" x="445.3" y="164.2" stroke="#000" stroke-width="0.5">3</text>
<text class="b" x="442.3" y="1048.3">4</text>
<path d="M454.5,1039.6 H461" stroke="#000" stroke-width="2.4" fill="none"/>
<text class="b" x="473.3" y="1048.3">2</text>
</g>
</svg>
</body></html>
